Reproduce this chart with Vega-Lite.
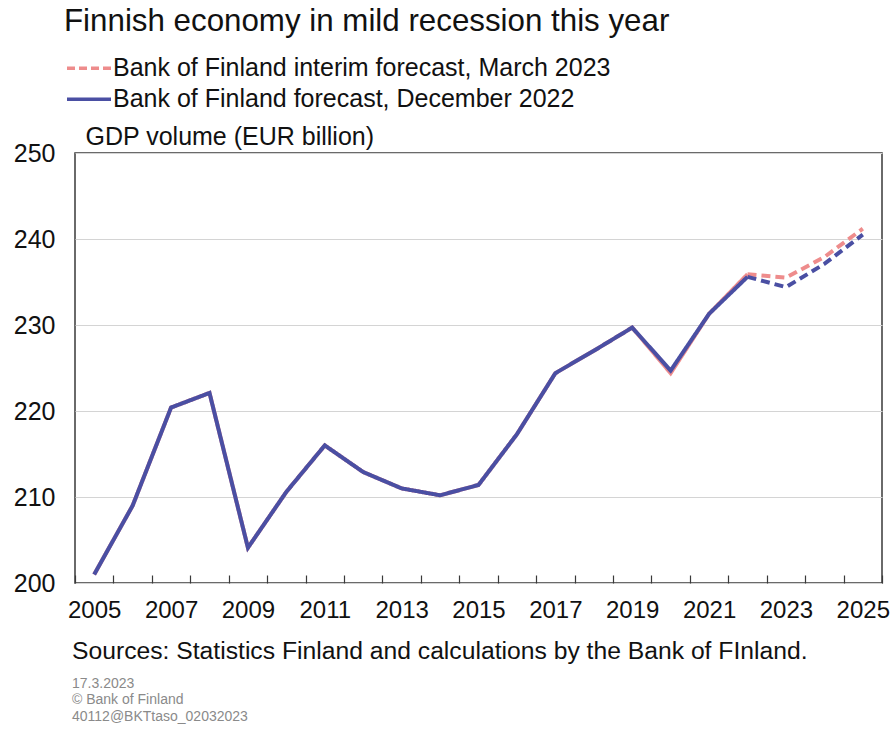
{
  "$schema": "https://vega.github.io/schema/vega-lite/v6.json",
  "autosize": {"type": "none"},
  "padding": {"left": 75, "top": 153, "right": 11, "bottom": 146},
  "width": 807,
  "height": 430,
  "background": "white",
  "config": {
    "font": "Liberation Sans",
    "view": {"stroke": "#3a3a3a", "strokeWidth": 1.5}
  },
  "title": {
    "text": "Sources: Statistics Finland and calculations by the Bank of FInland.",
    "subtitle": ["17.3.2023", "© Bank of Finland", "40112@BKTtaso_02032023"],
    "orient": "bottom",
    "anchor": "start",
    "frame": "group",
    "dx": -3,
    "offset": 17,
    "fontSize": 24.7,
    "fontWeight": "normal",
    "color": "#111111",
    "subtitleFontSize": 14,
    "subtitleColor": "#8a8a8a",
    "subtitleLineHeight": 16.5,
    "subtitlePadding": 13
  },
  "data": {
    "values": [
      {"series": "Bank of Finland interim forecast, March 2023", "part": "history", "year": 2005, "gdp": 201.0},
      {"series": "Bank of Finland interim forecast, March 2023", "part": "history", "year": 2006, "gdp": 209.0},
      {"series": "Bank of Finland interim forecast, March 2023", "part": "history", "year": 2007, "gdp": 220.4},
      {"series": "Bank of Finland interim forecast, March 2023", "part": "history", "year": 2008, "gdp": 222.1},
      {"series": "Bank of Finland interim forecast, March 2023", "part": "history", "year": 2009, "gdp": 204.1},
      {"series": "Bank of Finland interim forecast, March 2023", "part": "history", "year": 2010, "gdp": 210.6},
      {"series": "Bank of Finland interim forecast, March 2023", "part": "history", "year": 2011, "gdp": 216.0},
      {"series": "Bank of Finland interim forecast, March 2023", "part": "history", "year": 2012, "gdp": 212.9},
      {"series": "Bank of Finland interim forecast, March 2023", "part": "history", "year": 2013, "gdp": 211.0},
      {"series": "Bank of Finland interim forecast, March 2023", "part": "history", "year": 2014, "gdp": 210.2},
      {"series": "Bank of Finland interim forecast, March 2023", "part": "history", "year": 2015, "gdp": 211.4},
      {"series": "Bank of Finland interim forecast, March 2023", "part": "history", "year": 2016, "gdp": 217.3},
      {"series": "Bank of Finland interim forecast, March 2023", "part": "history", "year": 2017, "gdp": 224.4},
      {"series": "Bank of Finland interim forecast, March 2023", "part": "history", "year": 2018, "gdp": 227.0},
      {"series": "Bank of Finland interim forecast, March 2023", "part": "history", "year": 2019, "gdp": 229.7},
      {"series": "Bank of Finland interim forecast, March 2023", "part": "history", "year": 2020, "gdp": 224.4},
      {"series": "Bank of Finland interim forecast, March 2023", "part": "history", "year": 2021, "gdp": 231.3},
      {"series": "Bank of Finland interim forecast, March 2023", "part": "history", "year": 2022, "gdp": 235.9},
      {"series": "Bank of Finland interim forecast, March 2023", "part": "forecast", "year": 2022, "gdp": 235.9},
      {"series": "Bank of Finland interim forecast, March 2023", "part": "forecast", "year": 2023, "gdp": 235.5},
      {"series": "Bank of Finland interim forecast, March 2023", "part": "forecast", "year": 2024, "gdp": 237.9},
      {"series": "Bank of Finland interim forecast, March 2023", "part": "forecast", "year": 2025, "gdp": 241.2},
      {"series": "Bank of Finland forecast, December 2022", "part": "history", "year": 2005, "gdp": 201.0},
      {"series": "Bank of Finland forecast, December 2022", "part": "history", "year": 2006, "gdp": 209.0},
      {"series": "Bank of Finland forecast, December 2022", "part": "history", "year": 2007, "gdp": 220.4},
      {"series": "Bank of Finland forecast, December 2022", "part": "history", "year": 2008, "gdp": 222.1},
      {"series": "Bank of Finland forecast, December 2022", "part": "history", "year": 2009, "gdp": 204.1},
      {"series": "Bank of Finland forecast, December 2022", "part": "history", "year": 2010, "gdp": 210.6},
      {"series": "Bank of Finland forecast, December 2022", "part": "history", "year": 2011, "gdp": 216.0},
      {"series": "Bank of Finland forecast, December 2022", "part": "history", "year": 2012, "gdp": 212.9},
      {"series": "Bank of Finland forecast, December 2022", "part": "history", "year": 2013, "gdp": 211.0},
      {"series": "Bank of Finland forecast, December 2022", "part": "history", "year": 2014, "gdp": 210.2},
      {"series": "Bank of Finland forecast, December 2022", "part": "history", "year": 2015, "gdp": 211.4},
      {"series": "Bank of Finland forecast, December 2022", "part": "history", "year": 2016, "gdp": 217.3},
      {"series": "Bank of Finland forecast, December 2022", "part": "history", "year": 2017, "gdp": 224.4},
      {"series": "Bank of Finland forecast, December 2022", "part": "history", "year": 2018, "gdp": 227.0},
      {"series": "Bank of Finland forecast, December 2022", "part": "history", "year": 2019, "gdp": 229.7},
      {"series": "Bank of Finland forecast, December 2022", "part": "history", "year": 2020, "gdp": 224.7},
      {"series": "Bank of Finland forecast, December 2022", "part": "history", "year": 2021, "gdp": 231.3},
      {"series": "Bank of Finland forecast, December 2022", "part": "history", "year": 2022, "gdp": 235.6},
      {"series": "Bank of Finland forecast, December 2022", "part": "forecast", "year": 2022, "gdp": 235.6},
      {"series": "Bank of Finland forecast, December 2022", "part": "forecast", "year": 2023, "gdp": 234.4},
      {"series": "Bank of Finland forecast, December 2022", "part": "forecast", "year": 2024, "gdp": 237.1},
      {"series": "Bank of Finland forecast, December 2022", "part": "forecast", "year": 2025, "gdp": 240.5}
    ]
  },
  "mark": {"type": "line", "strokeWidth": 4, "strokeJoin": "miter", "strokeCap": "butt"},
  "encoding": {
    "x": {
      "field": "year",
      "type": "ordinal",
      "scale": {"type": "band", "paddingInner": 0, "paddingOuter": 0},
      "axis": {
        "title": null,
        "domain": false,
        "grid": false,
        "tickBand": "extent",
        "tickSize": -8,
        "tickColor": "#3a3a3a",
        "tickWidth": 1.2,
        "labelAngle": 0,
        "labelFontSize": 24,
        "labelColor": "#111111",
        "labelPadding": 23,
        "labelExpr": "datum.value % 2 == 1 ? datum.label : ''"
      }
    },
    "y": {
      "field": "gdp",
      "type": "quantitative",
      "scale": {"domain": [200, 250], "nice": false, "zero": false},
      "axis": {
        "title": "GDP volume (EUR billion)",
        "titleAngle": 0,
        "titleX": 10,
        "titleY": -9,
        "titleAlign": "left",
        "titleBaseline": "alphabetic",
        "titleFontSize": 25,
        "titleFontWeight": "normal",
        "titleColor": "#111111",
        "values": [200, 210, 220, 230, 240, 250],
        "domain": false,
        "ticks": false,
        "labelFontSize": 25,
        "labelColor": "#111111",
        "labelPadding": 20,
        "gridColor": "#d4d4d4",
        "gridWidth": 1.2
      }
    },
    "color": {
      "field": "series",
      "type": "nominal",
      "scale": {
        "domain": ["Bank of Finland interim forecast, March 2023", "Bank of Finland forecast, December 2022"],
        "range": ["#ee8c8c", "#4a4fa3"]
      },
      "legend": {
        "title": "Finnish economy in mild recession this year",
        "orient": "none",
        "legendX": -11,
        "legendY": -147,
        "titleFontSize": 31.3,
        "titleFontWeight": "normal",
        "titleColor": "#111111",
        "titlePadding": 18,
        "titleLimit": 900,
        "labelFontSize": 25,
        "labelColor": "#111111",
        "labelLimit": 800,
        "labelOffset": 11,
        "rowPadding": 5,
        "symbolType": "M-2,0H2",
        "symbolSize": 484,
        "symbolStrokeWidth": 3.5,
        "symbolOffset": 12,
        "padding": 0,
        "offset": 0,
        "encode": {
          "symbols": {
            "update": {
              "strokeDash": {"signal": "datum.value == 'Bank of Finland interim forecast, March 2023' ? [8, 4] : [1, 0]"}
            }
          }
        }
      }
    },
    "strokeDash": {
      "field": "part",
      "type": "nominal",
      "scale": {"domain": ["history", "forecast"], "range": [[1, 0], [9, 5]]},
      "legend": null
    }
  }
}
